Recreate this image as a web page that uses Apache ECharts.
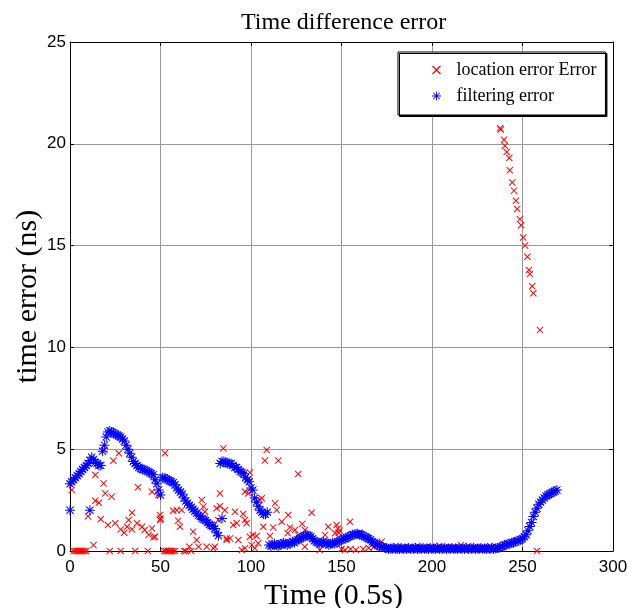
<!DOCTYPE html>
<html>
<head>
<meta charset="utf-8">
<script src="https://cdn.jsdelivr.net/npm/echarts@6/dist/echarts.min.js"></script>
<style>html,body{margin:0;padding:0;background:#fff;}#chart{width:627px;height:608px;}</style>
</head>
<body>
<div id="chart"></div>
<script>
// ---- data ----
var titleText = 'Time difference error';
var xAxisName = 'Time (0.5s)';
var yAxisName = 'time error (ns)';
var seriesNames = ['location error Error', 'filtering error'];
var xTicks = [0, 50, 100, 150, 200, 250, 300];
var yTicks = [0, 5, 10, 15, 20, 25];

// location error: [time, error]
var locationError = [
  [2,0],[3,0],[4,0],[5,0],[6,0],[7,0],[8,0],[9,0],
  [1,3.0],[13,0.29],[10,1.7],[14,3.73],[14,2.47],[16,2.37],[17,1.56],[18.6,3.32],[19.5,2.83],[19,4.96],
  [21,1.28],[22,0],[23,2.67],[24,4.43],[25,1.36],[27,4.8],[28,1.06],[28,0],[30,0.9],[31.5,1.19],
  [32.4,1.52],[34.3,1.88],[34.3,1.06],[36,0],[37,1.36],[37.6,3.13],[39.8,1.19],[41.3,1.03],[43,0],
  [43.5,0.79],[45.3,2.91],[45.3,1.11],[46.2,0.67],[47,0.7],[48.8,2.75],[49.7,1.77],[50,1.6],[49.9,1.52],
  [52,0],[53,0],[54,0],[55,0],[56,0],[57,0],[58,0],[52.5,4.8],[57,1.98],[59,2.0],[61.7,2.01],[59.8,1.49],
  [60.8,1.19],[63,0],[64,0],[66,0.21],[67,0],[68,0.95],[70,0.54],[71,0.21],[72.8,2.5],[73.7,2.18],
  [74.6,1.93],[75.5,0.21],[79.2,0.13],[80,0.21],[81,2.1],[81.9,1.52],[82.9,2.83],[82.9,2.2],[84.7,5.04],
  [85.6,2.0],[86.6,0.54],[86.6,0.62],[88.4,0.62],[90.2,1.28],[91.2,1.93],[92.1,1.36],[93,0.54],[94.9,0.05],
  [95.7,1.82],[96.7,2.91],[96.7,1.52],[96.7,0.13],[97.6,1.36],[98.5,2.83],[99.4,3.85],[99.4,0.7],
  [100.4,0.29],[101,0.78],[102.2,0.13],[103.1,0.74],[104,0.38],[105,2.5],[105.9,2.59],[106.8,1.19],
  [107.7,4.44],[108.7,4.96],[110.5,0.74],[112.3,1.16],[113.3,2.34],[114.2,2.01],[115.1,4.44],[117,1.44],
  [120.3,0.87],[120.6,1.77],[121.5,1.16],[124.3,1.03],[126.1,3.78],[126.1,0.79],[128.3,1.33],[129.8,1.03],
  [129.8,0.21],[133.5,1.88],[138,0.05],[140.9,0.79],[142.7,1.19],[146.4,0.87],[147.3,1.28],[148,1.1],
  [148.5,0.9],[149,1.0],[150,0.1],[152,0.05],[154.7,1.44],[155,0.1],[158,0.05],[160.2,0.9],[162,0.1],
  [165,0.15],[168,0.2],[172.2,0.46],
  [176,0.2],[180,0.25],[184,0.2],[188,0.2],[192,0.25],[196,0.2],[200,0.2],[204,0.25],[208,0.2],
  [212,0.2],[216,0.3],[220,0.25],[224,0.2],[228,0.2],[232,0.25],[236,0.2],
  [237.6,20.76],[238,20.7],[239.8,20.2],[240.3,19.9],[241.3,19.6],[242.7,19.3],[243,18.7],[244.4,18.1],
  [245.3,17.7],[246.4,17.2],[247.1,16.8],[248.6,16.3],[249.3,16.0],[250.4,15.4],[251.4,15.0],[252.7,14.45],
  [253.6,13.8],[254.1,13.6],[255.4,13.0],[256,12.66],[259.7,10.85],[258,0]
];

// filtering error, one value per time step starting at 0
var filteringError = [
  3.3,3.4,3.5,3.6,3.7,3.8,3.9,4.0,4.1,4.2,
  4.3,4.45,4.6,4.5,4.35,4.3,4.2,4.2,4.9,5.2,
  5.6,5.85,5.9,5.85,5.8,5.75,5.7,5.65,5.6,5.5,
  5.4,5.2,5.0,4.8,4.6,4.4,4.3,4.2,4.1,4.05,
  4.0,4.0,3.95,3.9,3.85,3.8,3.75,3.5,3.3,3.0,
  2.75,3.6,3.6,3.55,3.5,3.45,3.4,3.35,3.25,3.1,
  3.0,2.9,2.8,2.6,2.45,2.35,2.25,2.15,2.05,1.95,
  1.85,1.75,1.7,1.6,1.55,1.5,1.4,1.3,1.25,1.2,
  1.1,0.9,0.75,4.3,4.4,4.4,4.35,4.3,4.3,4.3,
  4.2,4.1,4.1,4.0,3.9,3.85,3.8,3.6,3.5,3.4,
  3.1,3.0,2.6,2.4,2.2,2.0,1.9,1.8,1.8,1.9,
  0.3,0.25,0.3,0.35,0.3,0.25,0.3,0.35,0.4,0.35,
  0.3,0.35,0.4,0.45,0.4,0.5,0.55,0.6,0.65,0.7,
  0.75,0.8,0.75,0.7,0.6,0.5,0.45,0.4,0.35,0.4,
  0.45,0.4,0.35,0.3,0.35,0.4,0.35,0.4,0.45,0.5,
  0.55,0.6,0.6,0.65,0.7,0.75,0.8,0.8,0.85,0.85,
  0.8,0.8,0.75,0.7,0.65,0.6,0.55,0.45,0.4,0.35,
  0.3,0.25,0.2,0.2,0.15,0.15,0.1,0.12,0.1,0.15,
  0.1,0.12,0.1,0.15,0.1,0.12,0.1,0.15,0.1,0.12,
  0.1,0.15,0.1,0.12,0.1,0.15,0.1,0.12,0.1,0.15,
  0.1,0.12,0.1,0.15,0.1,0.12,0.1,0.15,0.1,0.12,
  0.1,0.15,0.1,0.12,0.1,0.15,0.1,0.12,0.1,0.15,
  0.1,0.12,0.1,0.15,0.1,0.12,0.1,0.15,0.1,0.12,
  0.1,0.12,0.1,0.15,0.1,0.12,0.15,0.15,0.2,0.25,
  0.3,0.3,0.35,0.35,0.4,0.4,0.45,0.5,0.5,0.55,
  0.6,0.7,0.8,1.0,1.2,1.4,1.7,1.9,2.1,2.3,
  2.4,2.5,2.6,2.7,2.75,2.8,2.85,2.9,2.95,3.0
];
var filteringTime0 = 0;
// isolated filtering-error points
var filteringOutliers = [[0,2.0],[11,2.0],[84,1.6]];

// ---- chart ----
var filteringData = filteringError.map(function (v, i) { return [filteringTime0 + i, v]; })
  .concat(filteringOutliers);

var crossPath = 'path://M0,1L1,0L5,4L9,0L10,1L6,5L10,9L9,10L5,6L1,10L0,9L4,5Z';
var starPath = 'path://M0,4.5L10,4.5L10,5.5L0,5.5Z M4.5,0L5.5,0L5.5,10L4.5,10Z M1,1.7L1.7,1L9,8.3L8.3,9Z M8.3,1L9,1.7L1.7,9L1,8.3Z';

var serif = '"Liberation Serif", "Times New Roman", serif';
var sans = '"Liberation Sans", Arial, sans-serif';

var chart = echarts.init(document.getElementById('chart'), null, {renderer: 'canvas'});
var tickStyle = {show: true, inside: true, length: 4, lineStyle: {color: '#000', width: 1}};
var option = {
  animation: false,
  backgroundColor: '#fff',
  title: {
    text: titleText,
    left: 236, top: 6,
    textStyle: {fontFamily: serif, fontSize: 24, fontWeight: 'normal', color: '#000'}
  },
  grid: {left: 70, right: 14, top: 42, bottom: 57, containLabel: false, outerBoundsMode: 'none'},
  legend: {
    orient: 'vertical',
    left: 398, top: 52,
    padding: [9, 9, 10, 34],
    itemWidth: 30, itemHeight: 9, itemGap: 8,
    backgroundColor: '#fff',
    borderColor: '#000', borderWidth: 1,
    shadowColor: '#000', shadowOffsetX: 1.5, shadowOffsetY: 1.5, shadowBlur: 0,
    textStyle: {fontFamily: serif, fontSize: 18, color: '#000'},
    data: seriesNames
  },
  xAxis: [{
    type: 'value', min: xTicks[0], max: xTicks[xTicks.length - 1], interval: 50,
    name: xAxisName, nameLocation: 'middle', nameGap: 21,
    nameTextStyle: {fontFamily: serif, fontSize: 30, color: '#000', padding: [0, 16, 0, 0]},
    axisLine: {show: true, onZero: false, lineStyle: {color: '#000', width: 1}},
    axisTick: tickStyle,
    axisLabel: {margin: 8, fontFamily: sans, fontSize: 17, color: '#000'},
    splitLine: {show: true, lineStyle: {color: '#999', width: 1}}
  }, {
    type: 'value', position: 'top', min: xTicks[0], max: xTicks[xTicks.length - 1], interval: 50,
    axisLine: {show: true, onZero: false, lineStyle: {color: '#000', width: 1}},
    axisTick: tickStyle, axisLabel: {show: false}, splitLine: {show: false}
  }],
  yAxis: [{
    type: 'value', min: yTicks[0], max: yTicks[yTicks.length - 1], interval: 5,
    name: yAxisName, nameLocation: 'middle', nameGap: 27, nameMoveOverlap: false,
    nameTextStyle: {fontFamily: serif, fontSize: 30, color: '#000'},
    axisLine: {show: true, onZero: false, lineStyle: {color: '#000', width: 1}},
    axisTick: tickStyle,
    axisLabel: {margin: 4, fontFamily: sans, fontSize: 17, color: '#000'},
    splitLine: {show: true, lineStyle: {color: '#999', width: 1}}
  }, {
    type: 'value', position: 'right', min: yTicks[0], max: yTicks[yTicks.length - 1], interval: 5,
    axisLine: {show: true, onZero: false, lineStyle: {color: '#000', width: 1}},
    axisTick: tickStyle, axisLabel: {show: false}, splitLine: {show: false}
  }],
  series: [{
    name: seriesNames[0], type: 'scatter',
    symbol: crossPath, symbolSize: 7,
    itemStyle: {color: '#ff0000', opacity: 1},
    data: locationError, z: 2
  }, {
    name: seriesNames[1], type: 'scatter',
    symbol: starPath, symbolSize: 10,
    itemStyle: {color: '#0000ff', opacity: 1},
    data: filteringData, z: 3
  }]
};
chart.setOption(option);
</script>
</body>
</html>
